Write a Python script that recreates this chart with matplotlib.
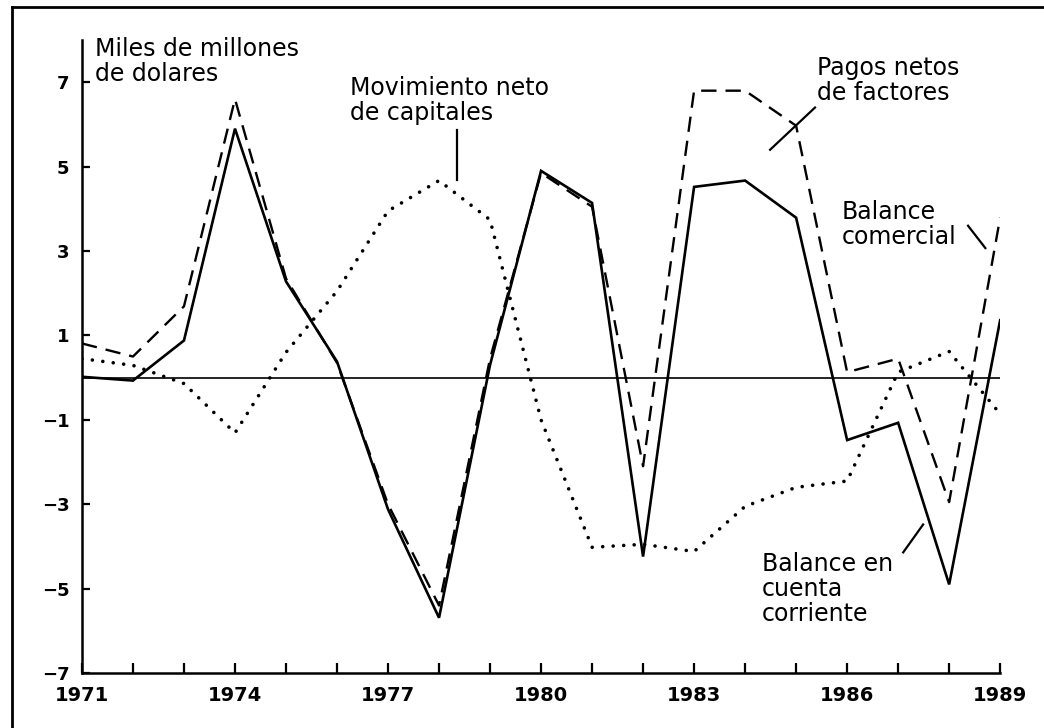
import matplotlib
matplotlib.use("Agg")
import matplotlib.pyplot as plt
from matplotlib.lines import Line2D

years = list(range(1971, 1990))
cuenta_corriente = [0.02, -0.07, 0.88, 5.9, 2.28, 0.38, -3.12, -5.69, 0.3, 4.9,
                    4.14, -4.24, 4.52, 4.67, 3.79, -1.48, -1.07, -4.9, 1.36]
balance_comercial = [0.81, 0.5, 1.69, 6.6, 2.35, 0.35, -3.0, -5.4, 0.45, 4.85,
                     4.05, -2.1, 6.8, 6.8, 5.97, 0.13, 0.45, -2.95, 3.79]
capitales = [0.45, 0.29, -0.14, -1.31, 0.6, 2.05, 3.95, 4.67, 3.74, -1.0,
             -4.02, -3.95, -4.12, -3.05, -2.6, -2.45, 0.13, 0.62, -0.86]

yticks = [-7, -5, -3, -1, 1, 3, 5, 7]
ytick_labels = ["\u22127", "\u22125", "\u22123", "\u22121", "1", "3", "5", "7"]
xtick_labels = [str(y) if (y - 1971) % 3 == 0 else "" for y in years]

plt.rcParams['font.family'] = ['DejaVu Sans']

fig = plt.figure(figsize=(10.44, 7.28), dpi=100)
ax = fig.add_axes([0.0785, 0.0755, 0.8795, 0.8695])

ax.plot(years, cuenta_corriente, color='black', lw=1.9, solid_joinstyle='miter')
ax.plot(years, balance_comercial, color='black', lw=1.7, dashes=(6.5, 3.8))
ax.plot(years, capitales, color='black', lw=2.6, dashes=(0.01, 2.9),
        dash_capstyle='round')
ax.plot([1971, 1989], [0, 0], color='black', lw=1.2)

ax.set_xlim(1971, 1989)
ax.set_ylim(-7, 8)
ax.spines['top'].set_visible(False)
ax.spines['right'].set_visible(False)
ax.spines['left'].set_linewidth(1.8)
ax.spines['bottom'].set_linewidth(1.8)
ax.set_yticks(yticks)
ax.set_yticklabels(ytick_labels)
ax.set_xticks(years)
ax.set_xticklabels(xtick_labels)
ax.tick_params(axis='x', direction='in', length=7, width=1.6, pad=9)
ax.tick_params(axis='y', direction='in', length=6, width=1.6, pad=9)
for lab in ax.get_xticklabels():
    lab.set_fontweight('bold')
    lab.set_fontsize(14)
for lab in ax.get_yticklabels():
    lab.set_fontweight('bold')
    lab.set_fontsize(13)

fs = 17
ax.text(1971.25, 8.08, "Miles de millones\nde dolares", fontsize=fs,
        ha='left', va='top', linespacing=1.05)
ax.text(1976.25, 7.15, "Movimiento neto\nde capitales", fontsize=fs,
        ha='left', va='top', linespacing=1.05)
ax.plot([1978.35, 1978.35], [5.86, 4.69], color='black', lw=1.6)
ax.text(1985.41, 7.62, "Pagos netos\nde factores", fontsize=fs,
        ha='left', va='top', linespacing=1.05)
ax.plot([1985.37, 1984.49], [6.40, 5.40], color='black', lw=1.6)
ax.text(1985.90, 4.2, "Balance\ncomercial", fontsize=fs,
        ha='left', va='top', linespacing=1.05)
ax.plot([1988.37, 1988.71], [3.60, 3.07], color='black', lw=1.6)
ax.text(1984.33, -4.14, "Balance en\ncuenta\ncorriente", fontsize=fs,
        ha='left', va='top', linespacing=1.05)
ax.plot([1987.10, 1987.49], [-4.14, -3.48], color='black', lw=1.6)

# outer frame (left and top edges visible)
fig.add_artist(Line2D([0.0115, 0.0115], [0.0, 0.990], transform=fig.transFigure,
                      color='black', lw=2.0))
fig.add_artist(Line2D([0.0115, 1.0], [0.990, 0.990], transform=fig.transFigure,
                      color='black', lw=2.0))

fig.savefig("out.png", dpi=100)
